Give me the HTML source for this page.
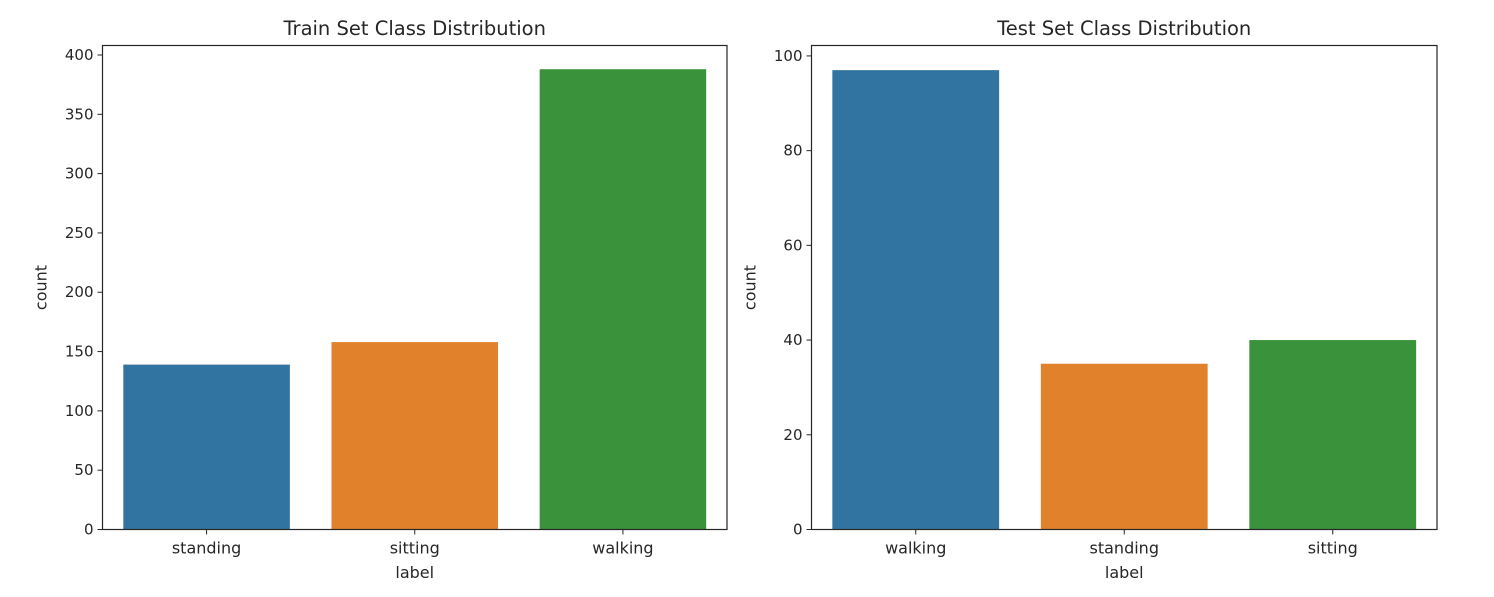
<!DOCTYPE html>
<html><head><meta charset="utf-8"><style>
body{margin:0;background:#fff;font-family:"Liberation Sans","DejaVu Sans",sans-serif;}
svg text{font-family:"DejaVu Sans","Liberation Sans",sans-serif;fill:#262626;}
</style></head><body>
<svg id="c" width="1494" height="592"></svg>
<script>
const trainCats=["standing","sitting","walking"];
const trainVals=[139,158,388];
const trainTicks=[0,50,100,150,200,250,300,350,400];
const testCats=["walking","standing","sitting"];
const testVals=[97,35,40];
const testTicks=[0,20,40,60,80,100];
const colors=["#3274a1","#e1812c","#3a923a"];
const NS="http://www.w3.org/2000/svg";
const svg=document.getElementById('c');
function mk(t,a,p){const e=document.createElementNS(NS,t);for(const k in a)e.setAttribute(k,a[k]);(p||svg).appendChild(e);return e;}
function panel(x0,x1,y0,y1,ymax,cats,vals,ticks,title,pfx){
  const g=mk('g',{});
  
  
  const sy=v=>y1-(v/ymax)*(y1-y0);
  const bw=(x1-x0)/cats.length;
  cats.forEach((c,i)=>{
    const r=mk('rect',{x:x0+bw*i+bw*0.1,y:sy(vals[i]),width:bw*0.8,height:y1-sy(vals[i]),fill:colors[i]},g);
    
    
    const cx=x0+bw*(i+0.5);
    mk('line',{x1:cx,x2:cx,y1:y1,y2:y1+5,stroke:'#262626','stroke-width':1},g);
    const t=mk('text',{x:cx,y:y1+24,'text-anchor':'middle','font-size':16},g);t.textContent=c;
    
    
  });
  ticks.forEach(v=>{
    const y=sy(v);
    mk('line',{x1:x0-5,x2:x0,y1:y,y2:y,stroke:'#262626','stroke-width':1},g);
    const t=mk('text',{x:x0-9,y:y+5,'text-anchor':'end','font-size':15},g);t.textContent=v;
    
    
  });
  const f=mk('rect',{x:x0,y:y0,width:x1-x0,height:y1-y0,fill:'none',stroke:'#262626','stroke-width':1.2},g);
  
  
  let t=mk('text',{x:(x0+x1)/2,y:35,'text-anchor':'middle','font-size':19.5},g);t.textContent=title;
  
  
  t=mk('text',{x:(x0+x1)/2,y:578,'text-anchor':'middle','font-size':16},g);t.textContent='label';
  
  
  const ly=(y0+y1)/2;
  t=mk('text',{x:x0-56,y:ly,'text-anchor':'middle','font-size':16,transform:`rotate(-90 ${x0-56} ${ly})`},g);t.textContent='count';
  
  
}
panel(102.5,727,45.5,529.5,408,trainCats,trainVals,trainTicks,'Train Set Class Distribution','train');
panel(811.5,1437,45.5,529.5,102.2,testCats,testVals,testTicks,'Test Set Class Distribution','test');
</script>
</body></html>
